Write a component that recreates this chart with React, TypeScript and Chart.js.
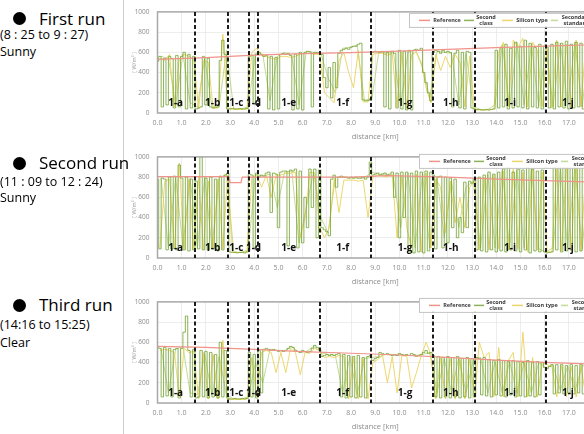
import React, { useEffect, useRef } from "react";
import { Chart, registerables } from "chart.js";
Chart.register(...registerables);

// ---------------- DATA ----------------
const SERIES_LABELS = ["Reference", "Second class", "Silicon type", "Secondary standard"];
const LEGEND_WRAP = [false, true, false, true];

const SECTION_BOUNDS_KM = [1.55, 2.9, 3.78, 4.17, 6.72, 8.82, 11.37, 13.12, 16.04];
const SECTION_NAMES = ["1-a", "1-b", "1-c", "1-d", "1-e", "1-f", "1-g", "1-h", "1-i", "1-j"];
const SECTION_LABEL_KM = [0.75, 2.28, 3.26, 3.97, 5.42, 7.65, 10.23, 12.12, 14.57, 16.96];
const SECTION_LABEL_LEVEL = 100;

const X_TICK_MAX = 18;
const Y_MAX = 1000;

// sampling grids (km) of the measured series
const SECOND_START = 0.0, SECOND_STEP = 0.1;
const SILICON_START = 0.1, SILICON_STEP = 0.2;
const SECONDARY_START = 0.15, SECONDARY_STEP = 0.3;

// ---- First run ----
const RUN1_REF_KM = [0, 2, 4, 6, 8, 10, 12, 14, 16, 18];
const RUN1_REF = [530, 548, 572, 588, 598, 612, 630, 646, 662, 675];
const RUN1_SECOND_CLASS = [
  510, 560, 60, 540, 80, 560, 540, 50, 570, 60,
  560, 600, 40, 580, 50, 560, 40, 50, 60, 560,
  80, 540, 60, 50, 55, 60, 520, 720, 580, 40,
  40, 45, 40, 40, 45, 40, 40, 45, 560, 570,
  90, 580, 600, 580, 560, 570, 40, 560, 30, 550,
  40, 580, 590, 580, 590, 570, 30, 580, 40, 600,
  30, 600, 610, 605, 60, 600, 600, 590, 580, 350,
  250, 450, 150, 500, 250, 590, 620, 630, 640, 630,
  650, 660, 660, 680, 690, 130, 120, 125, 140, 600,
  610, 605, 600, 610, 60, 600, 40, 610, 590, 50,
  620, 40, 610, 30, 620, 30, 620, 630, 620, 640,
  400, 300, 200, 120, 600, 620, 610, 590, 620, 600,
  610, 600, 60, 590, 620, 50, 600, 40, 610, 600,
  50, 40, 35, 35, 30, 30, 35, 30, 35, 40,
  620, 50, 650, 60, 680, 40, 640, 50, 700, 60,
  660, 50, 720, 40, 690, 60, 650, 50, 680, 40,
  660, 650, 50, 680, 40, 700, 60, 690, 50, 710,
  40, 680, 50, 700, 60, 690, 40, 700, 50, 680,
];
const RUN1_SILICON = [
  540, 520, 580, 60, 540, 580, 560, 530, 40, 520,
  500, 45, 50, 780, 50, 35, 35, 35, 40, 600,
  640, 570, 560, 540, 530, 560, 560, 550, 560, 580,
  590, 590, 580, 580, 200, 150, 100, 520, 600, 400,
  250, 620, 110, 110, 580, 590, 590, 570, 590, 60,
  600, 40, 580, 600, 500, 250, 100, 580, 420, 560,
  450, 580, 500, 60, 560, 30, 30, 30, 30, 40,
  600, 700, 60, 720, 650, 740, 60, 700, 620, 60,
  640, 50, 720, 60, 680, 50, 720, 60, 690, 60,
];
const RUN1_SECONDARY = [
  560, 540, 80, 580, 100, 60, 540, 60, 70, 620,
  40, 40, 60, 590, 580, 120, 560, 600, 560, 80,
  610, 600, 590, 350, 200, 640, 650, 670, 130, 130,
  610, 590, 600, 80, 600, 630, 450, 150, 610, 600,
  590, 80, 590, 60, 35, 35, 80, 680, 60, 700,
  80, 680, 70, 660, 60, 690, 80, 700, 60, 690,
];

// ---- Second run ----
const RUN2_REF_KM = [0, 2.95, 3.0, 3.45, 3.5, 6, 8, 9.5, 12, 14, 16, 18];
const RUN2_REF = [805, 805, 745, 745, 800, 800, 800, 815, 800, 780, 765, 750];
const RUN2_SECOND_CLASS = [
  780, 90, 790, 780, 80, 800, 90, 810, 80, 920,
  790, 80, 800, 70, 780, 80, 760, 90, 1000, 80,
  790, 80, 800, 90, 780, 70, 810, 80, 820, 840,
  60, 55, 55, 50, 55, 55, 50, 60, 830, 820,
  100, 840, 800, 820, 810, 840, 850, 450, 840, 830,
  300, 850, 860, 860, 120, 870, 860, 880, 100, 860,
  150, 600, 300, 880, 500, 880, 200, 870, 300, 280,
  260, 220, 780, 820, 700, 800, 810, 800, 800, 790,
  800, 790, 800, 790, 790, 800, 780, 800, 950, 820,
  830, 840, 820, 830, 840, 820, 830, 850, 600, 840,
  200, 850, 400, 850, 60, 840, 50, 860, 60, 850,
  50, 860, 70, 850, 820, 90, 800, 810, 100, 800,
  150, 790, 300, 780, 200, 400, 250, 750, 300, 760,
  740, 780, 80, 800, 70, 820, 60, 850, 80, 830,
  60, 850, 70, 880, 60, 900, 80, 850, 70, 880,
  60, 870, 80, 900, 50, 880, 70, 860, 60, 870,
  60, 50, 55, 60, 900, 80, 920, 60, 900, 70,
  950, 80, 900, 60, 930, 70, 900, 60, 920, 80,
];
const RUN2_SILICON = [
  100, 760, 780, 90, 940, 90, 780, 90, 800, 80,
  760, 90, 780, 90, 820, 60, 55, 55, 60, 800,
  820, 700, 820, 600, 820, 820, 840, 840, 850, 200,
  400, 850, 840, 300, 200, 300, 780, 450, 770, 770,
  770, 760, 770, 400, 800, 820, 810, 800, 830, 200,
  820, 300, 100, 830, 60, 840, 100, 780, 700, 250,
  760, 350, 600, 300, 700, 760, 80, 800, 80, 820,
  90, 860, 80, 880, 90, 850, 60, 900, 80, 850,
  60, 60, 880, 70, 900, 80, 920, 70, 880, 90,
];
const RUN2_SECONDARY = [
  790, 100, 800, 110, 790, 100, 800, 100, 790, 830,
  60, 55, 80, 830, 810, 830, 500, 850, 860, 150,
  500, 850, 400, 250, 800, 800, 790, 790, 790, 850,
  830, 830, 800, 300, 840, 100, 840, 100, 790, 200,
  760, 300, 700, 760, 100, 830, 100, 870, 90, 870,
  100, 880, 90, 60, 100, 900, 100, 910, 90, 900,
];

// ---- Third run ----
const RUN3_REF_KM = [0, 2, 4, 6, 8, 10, 12, 14, 16, 18];
const RUN3_REF = [560, 550, 530, 508, 492, 475, 452, 425, 402, 385];
const RUN3_SECOND_CLASS = [
  560, 540, 60, 550, 70, 540, 60, 530, 540, 50,
  540, 700, 860, 520, 60, 530, 50, 60, 520, 60,
  510, 50, 500, 60, 480, 50, 600, 60, 520, 50,
  40, 40, 45, 40, 40, 45, 40, 45, 500, 60,
  480, 50, 520, 100, 530, 540, 530, 520, 530, 520,
  510, 520, 510, 520, 540, 560, 550, 520, 510, 500,
  520, 510, 500, 510, 540, 570, 550, 530, 460, 470,
  480, 470, 480, 470, 480, 490, 60, 480, 50, 470,
  60, 460, 50, 470, 60, 450, 50, 460, 470, 420,
  440, 450, 500, 490, 480, 490, 480, 470, 480, 470,
  490, 480, 470, 480, 470, 490, 480, 460, 470, 480,
  500, 520, 490, 500, 470, 60, 460, 50, 450, 60,
  460, 50, 450, 60, 460, 50, 440, 60, 450, 50,
  440, 60, 450, 440, 80, 450, 70, 430, 60, 420,
  80, 430, 70, 420, 60, 410, 80, 420, 60, 410,
  70, 400, 60, 420, 70, 400, 60, 410, 80, 400,
  350, 340, 360, 380, 90, 380, 100, 380, 90, 370,
  100, 380, 90, 370, 100, 380, 90, 370, 100, 370,
];
const RUN3_SILICON = [
  520, 530, 520, 500, 60, 540, 500, 510, 40, 500,
  40, 480, 40, 620, 40, 35, 35, 35, 40, 450,
  60, 500, 520, 500, 300, 500, 300, 540, 500, 280,
  500, 490, 540, 520, 450, 460, 450, 470, 460, 40,
  450, 40, 440, 40, 400, 430, 470, 200, 460, 100,
  470, 460, 150, 300, 470, 600, 480, 40, 450, 40,
  440, 40, 430, 40, 430, 50, 600, 450, 500, 60,
  550, 60, 420, 500, 60, 700, 60, 450, 60, 400,
  380, 360, 60, 370, 60, 360, 60, 370, 60, 360,
];
const RUN3_SECONDARY = [
  540, 100, 530, 560, 100, 80, 480, 80, 460, 80,
  40, 40, 60, 400, 200, 530, 520, 510, 560, 500,
  510, 560, 500, 480, 470, 100, 460, 80, 440, 450,
  460, 480, 470, 480, 470, 470, 480, 500, 100, 440,
  100, 450, 100, 430, 450, 100, 410, 100, 410, 100,
  400, 100, 400, 350, 370, 120, 370, 120, 370, 360,
];

const RUNS = [
  { title: "First run", time: "(8 : 25 to 9 : 27)", weather: "Sunny",
    refKm: RUN1_REF_KM, ref: RUN1_REF, second: RUN1_SECOND_CLASS, silicon: RUN1_SILICON, secondary: RUN1_SECONDARY },
  { title: "Second run", time: "(11 : 09 to 12 : 24)", weather: "Sunny",
    refKm: RUN2_REF_KM, ref: RUN2_REF, second: RUN2_SECOND_CLASS, silicon: RUN2_SILICON, secondary: RUN2_SECONDARY },
  { title: "Third run", time: "(14:16 to 15:25)", weather: "Clear",
    refKm: RUN3_REF_KM, ref: RUN3_REF, second: RUN3_SECOND_CLASS, silicon: RUN3_SILICON, secondary: RUN3_SECONDARY },
];

// ---------------- LAYOUT / STYLE ----------------
const FONT = '"Open Sans", "Noto Sans", sans-serif';
const COLORS = ["#f0938a", "rgba(112,160,46,0.8)", "rgba(234,208,84,0.85)", "rgba(176,206,116,0.75)"];
const WIDTHS = [1.2, 1, 1, 1];
const STEPPED = [false, "middle", false, false];
const PANEL_TOPS = [0, 145, 290];
const TEXT_BASELINES = [[25, 40.5, 57.5], [169.5, 187, 203.5], [311.5, 330, 348]];
const CANVAS_LEFT = 126;
const CANVAS_W = 480;
const CANVAS_H = 145;
const Y_AXIS_W = 31.5;
const X_AXIS_H = 32;
const PLOT_W = 435.6;
const LEGEND_LEFT = [283, 293, 293];
const LEGEND_TOP_OFFSET = [1, -3, -4];
const LEGEND_H = 14;
const LEGEND_LINE = [[10, 21], [55, 65], [93, 104], [142, 149]];
const LEGEND_TEXT_X = [38, 77, 123, 167];

function grid(start: number, step: number, values: number[]) {
  return values.map((v, i) => ({ x: +(start + step * i).toFixed(3), y: v }));
}

function makeDecorPlugin(panelIndex: number) {
  return {
    id: "decor" + panelIndex,
    afterDatasetsDraw(chart: any) {
      const { ctx, chartArea, scales } = chart;
      const xs = scales.x, ys = scales.y;
      ctx.save();
      // frame
      ctx.strokeStyle = "#a9a9a9";
      ctx.lineWidth = 1.5;
      ctx.strokeRect(chartArea.left, chartArea.top, chartArea.right - chartArea.left, chartArea.bottom - chartArea.top);
      // section boundaries
      ctx.setLineDash([4, 2.5]);
      ctx.strokeStyle = "#1c1c1c";
      ctx.lineWidth = 2;
      SECTION_BOUNDS_KM.forEach((b) => {
        const x = Math.round(xs.getPixelForValue(b));
        ctx.beginPath();
        ctx.moveTo(x, chartArea.top);
        ctx.lineTo(x, chartArea.bottom);
        ctx.stroke();
      });
      ctx.setLineDash([]);
      // section names
      ctx.font = `bold 10px ${FONT}`;
      ctx.fillStyle = "#111";
      ctx.textAlign = "center";
      ctx.textBaseline = "middle";
      SECTION_NAMES.forEach((n, i) => {
        ctx.fillText(n, xs.getPixelForValue(SECTION_LABEL_KM[i]), ys.getPixelForValue(SECTION_LABEL_LEVEL));
      });
      // legend
      const lx = LEGEND_LEFT[panelIndex];
      const ly = chartArea.top + LEGEND_TOP_OFFSET[panelIndex];
      ctx.fillStyle = "#ffffff";
      ctx.fillRect(lx, ly, chart.width - lx, LEGEND_H);
      ctx.strokeStyle = "#c4c4c4";
      ctx.lineWidth = 1;
      ctx.strokeRect(lx + 0.5, ly + 0.5, chart.width - lx, LEGEND_H);
      const my = ly + LEGEND_H / 2 + 0.5;
      chart.data.datasets.forEach((ds: any, i: number) => {
        ctx.strokeStyle = ds.borderColor;
        ctx.lineWidth = 1.5;
        ctx.beginPath();
        ctx.moveTo(lx + LEGEND_LINE[i][0], my);
        ctx.lineTo(lx + LEGEND_LINE[i][1], my);
        ctx.stroke();
        ctx.fillStyle = "#3a3a3a";
        ctx.font = `bold 5.5px ${FONT}`;
        ctx.textAlign = "center";
        ctx.textBaseline = "middle";
        const words = LEGEND_WRAP[i] ? ds.label.split(" ") : [ds.label];
        if (words.length === 1) {
          ctx.fillText(words[0], lx + LEGEND_TEXT_X[i], my);
        } else {
          ctx.fillText(words[0], lx + LEGEND_TEXT_X[i], my - 3.3);
          ctx.fillText(words[1], lx + LEGEND_TEXT_X[i], my + 3.3);
        }
      });
      ctx.restore();
    },
  };
}

function Panel({ index }: { index: number }) {
  const ref = useRef<HTMLCanvasElement | null>(null);
  useEffect(() => {
    const run = RUNS[index];
    const seriesData = [
      run.refKm.map((x, i) => ({ x, y: run.ref[i] })),
      grid(SECOND_START, SECOND_STEP, run.second),
      grid(SILICON_START, SILICON_STEP, run.silicon),
      grid(SECONDARY_START, SECONDARY_STEP, run.secondary),
    ];
    const chart = new Chart(ref.current as HTMLCanvasElement, {
      type: "line",
      data: {
        datasets: SERIES_LABELS.map((label, i) => ({
          label,
          data: seriesData[i],
          borderColor: COLORS[i],
          backgroundColor: COLORS[i],
          borderWidth: WIDTHS[i],
          pointRadius: 0,
          tension: 0,
          stepped: STEPPED[i],
          fill: false,
        })),
      },
      options: {
        responsive: false,
        animation: false,
        events: [],
        layout: { padding: { top: 10, left: 0, bottom: 0, right: CANVAS_W - Y_AXIS_W - PLOT_W } },
        plugins: { legend: { display: false }, tooltip: { enabled: false } },
        scales: {
          x: {
            type: "linear",
            min: 0,
            max: X_TICK_MAX,
            ticks: {
              stepSize: 1,
              autoSkip: false,
              maxRotation: 0,
              padding: 6,
              color: "#8c8c8c",
              font: { size: 7, family: FONT },
              callback: (v: any) => Number(v).toFixed(1),
            },
            grid: { color: "#e8e8e8", drawTicks: false, lineWidth: 0.8 },
            border: { display: false },
            title: {
              display: true,
              text: "distance [km]",
              color: "#8c8c8c",
              font: { size: 7.5, family: FONT },
              padding: { top: 0, bottom: 3.5 },
            },
            afterFit: (s: any) => { s.height = X_AXIS_H; },
          },
          y: {
            min: 0,
            max: Y_MAX,
            ticks: {
              stepSize: 100,
              padding: 8,
              color: "#8c8c8c",
              font: { size: 6.5, family: FONT },
              callback: (v: any) => String(v),
            },
            grid: { color: "#e8e8e8", drawTicks: false, lineWidth: 0.8 },
            border: { display: false },
            title: {
              display: true,
              text: "[ W/m² ]",
              color: "#9a9a9a",
              font: { size: 5.5, family: FONT },
              padding: { top: 5, bottom: 0 },
            },
            afterFit: (s: any) => { s.width = Y_AXIS_W; },
          },
        },
      },
      plugins: [makeDecorPlugin(index)],
    } as any);
    return () => chart.destroy();
  }, [index]);
  return (
    <canvas
      ref={ref}
      width={CANVAS_W}
      height={CANVAS_H}
      style={{ position: "absolute", left: CANVAS_LEFT, top: PANEL_TOPS[index], width: CANVAS_W, height: CANVAS_H }}
    />
  );
}

function RunText({ index }: { index: number }) {
  const run = RUNS[index];
  const [b1, b2, b3] = TEXT_BASELINES[index];
  const tF = 17, sF = 12.5;
  const common: React.CSSProperties = { position: "absolute", whiteSpace: "nowrap", color: "#000", zIndex: 2 };
  return (
    <>
      <div style={{ position: "absolute", left: 13, top: b1 - 6.1 - 6.5, width: 13, height: 13, borderRadius: "50%", background: "#000", zIndex: 2 }} />
      <div style={{ ...common, left: 39, top: b1 - 0.888 * tF, fontSize: tF, lineHeight: `${tF}px` }}>{run.title}</div>
      <div style={{ ...common, left: 0, top: b2 - 0.888 * sF, fontSize: sF, lineHeight: `${sF}px` }}>{run.time}</div>
      <div style={{ ...common, left: 0, top: b3 - 0.888 * sF, fontSize: sF, lineHeight: `${sF}px` }}>{run.weather}</div>
    </>
  );
}

export default function App() {
  return (
    <div
      style={{
        position: "absolute",
        left: 0,
        top: 0,
        width: 584,
        height: 434,
        overflow: "hidden",
        background: "#fff",
        fontFamily: FONT,
      }}
    >
      <div style={{ position: "absolute", left: 123, top: 0, width: 1, height: 434, background: "#cfcfcf" }} />
      {RUNS.map((_, i) => (
        <Panel key={"p" + i} index={i} />
      ))}
      {RUNS.map((_, i) => (
        <RunText key={"t" + i} index={i} />
      ))}
    </div>
  );
}
